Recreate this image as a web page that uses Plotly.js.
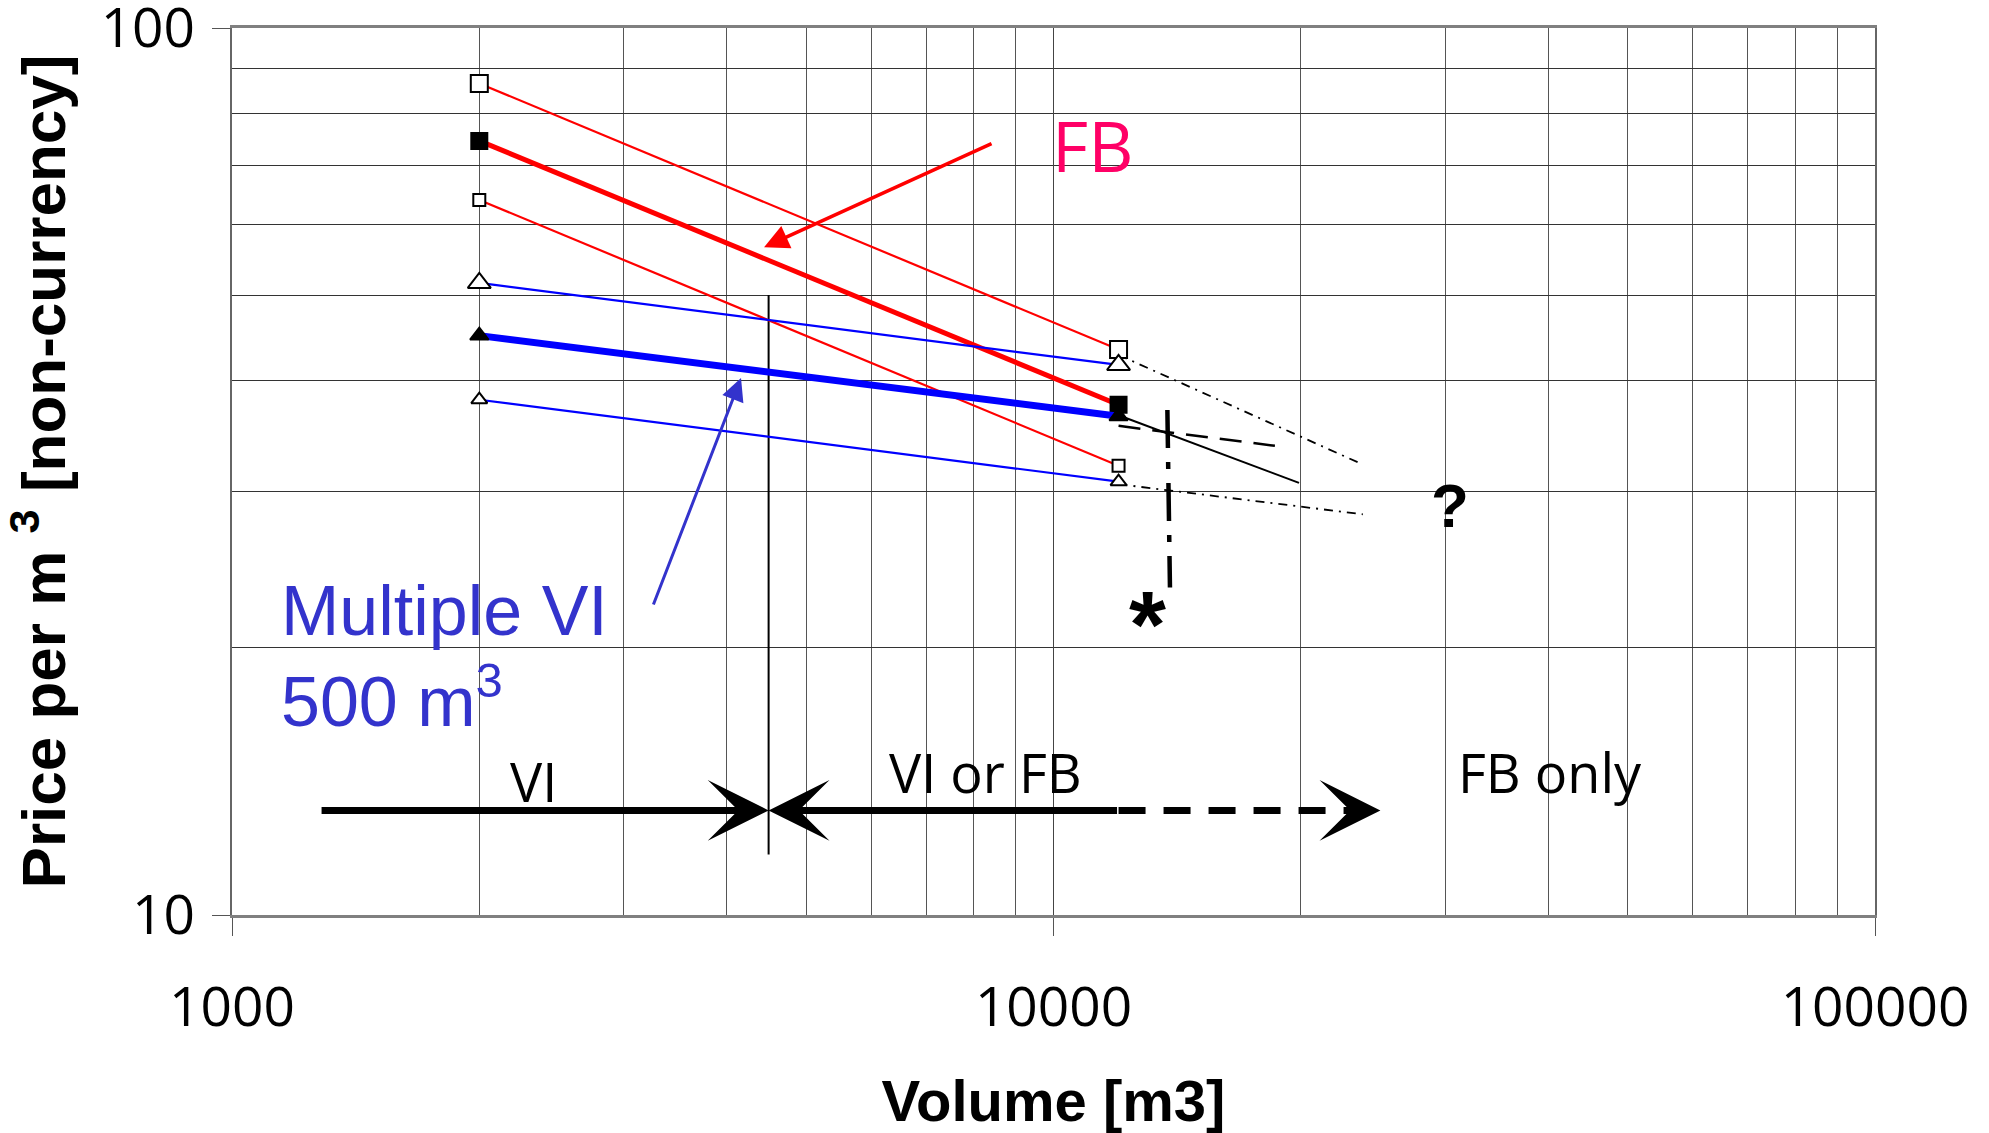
<!DOCTYPE html>
<html><head><meta charset="utf-8">
<script src="https://cdn.plot.ly/plotly-3.0.1.min.js"></script>
<style>html,body{margin:0;padding:0;background:#fff}</style>
</head><body><div id="chart" style="width:1989px;height:1133px"></div>
<script>
// ---- data ----
const volumes = [2000, 12000];
const fbHigh = [86.6, 43.4];
const fbMid  = [74.6, 37.6];
const fbLow  = [64.0, 32.1];
const viHigh = [51.6, 41.7];
const viMid  = [45.0, 36.5];
const viLow  = [38.1, 30.8];

// black extrapolations beyond 12000 m3
const extTopX   = [12000, 23800], extTopY   = [42.8, 32.2];
const extBotX   = [12000, 23800], extBotY   = [30.6, 28.3];
const extDashX  = [12000, 18600], extDashY  = [35.6, 33.8];
const extSolidX = [12000, 19900], extSolidY = [36.6, 30.7];
const starLineX = [13760, 13860], starLineY = [37.1, 23.4];

// VI limit and range arrows
const viLimitX = [4500, 4500], viLimitY = [50, 11.7];
const rangeY = 13.12;
const rangeStart = 1280, rangeBoundary = 4500, rangeSolidEnd = 12000, rangeTip = 25000;
const fbDashX = [12000, 23000], fbDashY = [rangeY, rangeY];

// tick labels
const xTickVals = [1000, 10000, 100000], xTickText = ['1000', '10000', '100000'];
const yTickVals = [10, 100], yTickText = ['10', '100'];

const L = Math.log10;
const RED = '#FF0000', BLUE = '#0000FF', BLK = '#000000';

function blackLine(x, y, w, dash) {
  return {x, y, type: 'scatter', mode: 'lines', line: {color: BLK, width: w, dash: dash}, hoverinfo: 'skip', showlegend: false};
}
function series(y, color, w, sym, size, filled) {
  return {x: volumes, y, type: 'scatter', mode: 'lines+markers',
    line: {color, width: w},
    marker: {symbol: sym, size, color: filled ? BLK : '#FFFFFF', line: {color: BLK, width: 2}},
    showlegend: false};
}

const traces = [
  blackLine(extTopX, extTopY, 1.8, '9px,6px,2px,6px'),
  blackLine(extBotX, extBotY, 1.8, '9px,6px,2px,6px'),
  blackLine(extDashX, extDashY, 2.5, '22px,12px'),
  blackLine(extSolidX, extSolidY, 2),
  blackLine(starLineX, starLineY, 4.5, '38px,14px,7px,14px'),
  blackLine(viLimitX, viLimitY, 2),
  blackLine(fbDashX, fbDashY, 7, '27px,18px'),
  series(fbHigh, RED, 2.2, 'square', 17, false),
  series(fbMid, RED, 5, 'square', 16, true),
  series(fbLow, RED, 2.2, 'square', 12, false),
  series(viHigh, BLUE, 2.2, 'triangle-up', 20, false),
  series(viMid, BLUE, 7, 'triangle-up', 16, true),
  series(viLow, BLUE, 2.2, 'triangle-up', 14, false)
];

const txtFont = {family: 'Open Sans, Noto Sans, sans-serif', size: 54, color: BLK};
const annotations = [
  // range arrows
  {x: L(rangeBoundary), y: L(rangeY), ax: L(rangeStart), ay: L(rangeY), axref: 'x', ayref: 'y',
   showarrow: true, arrowhead: 3, arrowwidth: 7, arrowsize: 1.45, arrowcolor: BLK, text: ''},
  {x: L(rangeBoundary), y: L(rangeY), ax: L(rangeSolidEnd), ay: L(rangeY), axref: 'x', ayref: 'y',
   showarrow: true, arrowhead: 3, arrowwidth: 7, arrowsize: 1.45, arrowcolor: BLK, text: ''},
  {x: L(rangeTip), y: L(rangeY), ax: -20, ay: 0,
   showarrow: true, arrowhead: 3, arrowwidth: 7, arrowsize: 1.45, arrowcolor: BLK, text: ''},
  // FB pointer
  {x: L(4443), y: L(56.6), ax: L(8441), ay: L(74.2), axref: 'x', ayref: 'y',
   showarrow: true, arrowhead: 2, arrowwidth: 3.5, arrowsize: 1.4, arrowcolor: RED, text: ''},
  // Multiple VI pointer
  {x: L(4165), y: L(40.3), ax: L(3253), ay: L(22.3), axref: 'x', ayref: 'y',
   showarrow: true, arrowhead: 2, arrowwidth: 3, arrowsize: 1.5, arrowcolor: '#3333CC', text: ''},
  // texts
  {x: L(11140), y: L(73.8), text: 'FB', showarrow: false, xanchor: 'center', yanchor: 'middle',
   font: {family: 'Open Sans, sans-serif', size: 70, color: '#FF0066'}},
  {x: L(1140), y: L(22.0), text: 'Multiple VI', showarrow: false, xanchor: 'left', yanchor: 'middle',
   font: {family: 'Liberation Sans, Arial, sans-serif', size: 70, color: '#3333CC'}},
  {x: L(1140), y: L(17.6), text: '500 m<sup>3</sup>', showarrow: false, xanchor: 'left', yanchor: 'middle',
   font: {family: 'Liberation Sans, Arial, sans-serif', size: 70, color: '#3333CC'}},
  {x: L(2325), y: L(14.15), text: 'VI', showarrow: false, xanchor: 'center', yanchor: 'middle', font: txtFont},
  {x: L(8254), y: L(14.5), text: 'VI or FB', showarrow: false, xanchor: 'center', yanchor: 'middle', font: txtFont},
  {x: L(40230), y: L(14.5), text: 'FB only', showarrow: false, xanchor: 'center', yanchor: 'middle', font: txtFont},
  {x: L(13000), y: L(21.3), text: '*', showarrow: false, xanchor: 'center', yanchor: 'middle',
   font: {family: 'Liberation Sans, Arial, sans-serif', size: 95, color: BLK, weight: 'bold'}},
  {x: L(30390), y: L(28.97), text: '?', showarrow: false, xanchor: 'center', yanchor: 'middle',
   font: {family: 'Liberation Sans, Arial, sans-serif', size: 62, color: BLK, weight: 'bold'}}
];

const tickFont = {family: 'Open Sans, Noto Sans, sans-serif', size: 55, color: BLK};
const layout = {
  width: 1989, height: 1133,
  margin: {l: 232, r: 114, t: 28, b: 218},
  paper_bgcolor: '#FFFFFF', plot_bgcolor: '#FFFFFF',
  showlegend: false,
  xaxis: {
    type: 'log', range: [3, 5], autorange: false,
    tickmode: 'array', tickvals: xTickVals, ticktext: xTickText,
    ticks: 'outside', ticklen: 18, tickcolor: '#555', tickwidth: 1,
    ticklabelstandoff: 24, ticklabeloverflow: 'allow',
    showgrid: true, gridcolor: '#444', gridwidth: 1,
    minor: {dtick: 'D1', showgrid: true, gridcolor: '#555', gridwidth: 1, ticks: ''},
    showline: true, linecolor: '#808080', linewidth: 3, mirror: true,
    zeroline: false, tickfont: tickFont,
    title: {text: 'Volume [m3]', standoff: 46,
            font: {family: 'Liberation Sans, Arial, sans-serif', size: 58, color: BLK, weight: 'bold'}}
  },
  yaxis: {
    type: 'log', range: [1, 2], autorange: false,
    tickmode: 'array', tickvals: yTickVals, ticktext: yTickText,
    ticks: 'outside', ticklen: 18, tickcolor: '#555', tickwidth: 1,
    ticklabelstandoff: 6, ticklabeloverflow: 'allow',
    showgrid: true, gridcolor: '#333', gridwidth: 1,
    minor: {dtick: 'D1', showgrid: true, gridcolor: '#333', gridwidth: 1, ticks: ''},
    showline: true, linecolor: '#666', linewidth: 2, mirror: true,
    zeroline: false, tickfont: tickFont,
    title: {text: 'Price per m <sup>3</sup> [non-currency]', standoff: 28,
            font: {family: 'Liberation Sans, Arial, sans-serif', size: 62, color: BLK, weight: 'bold'}}
  },
  annotations
};

Plotly.newPlot('chart', traces, layout, {staticPlot: true, displayModeBar: false});
</script>
</body></html>
